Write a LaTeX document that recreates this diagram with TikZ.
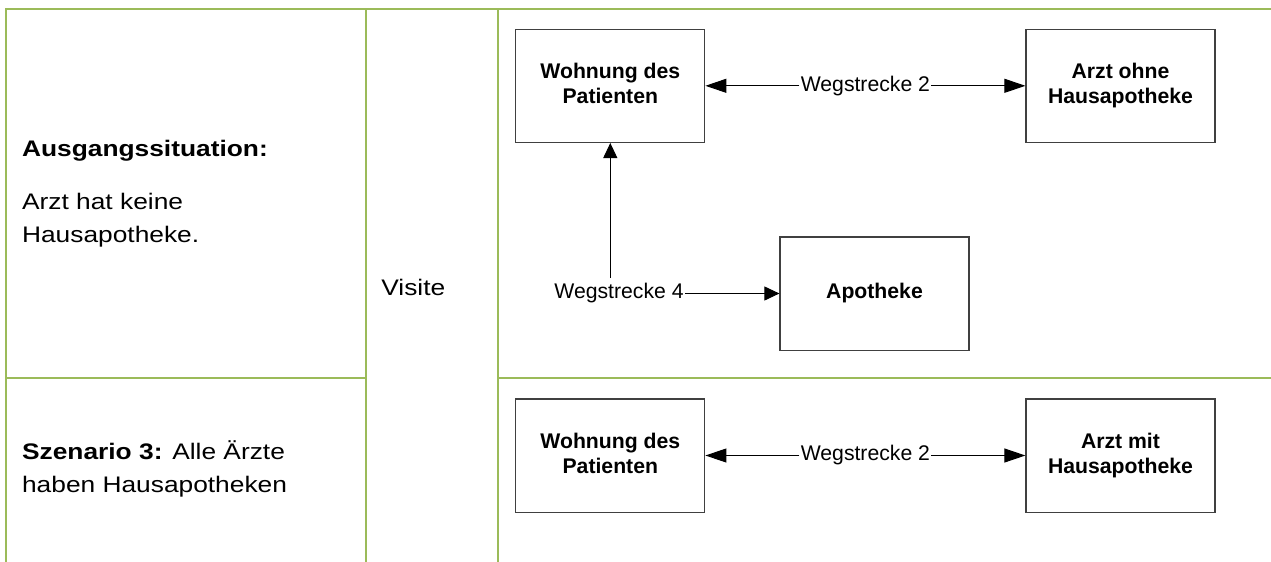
\documentclass[tikz,border=0pt]{standalone}
\usepackage{fontspec}
\setmainfont{Liberation Sans}
\newfontfamily\cellfont{Liberation Sans}[FakeStretch=1.17]
\usetikzlibrary{arrows.meta,calc}
\definecolor{gridgreen}{HTML}{9BBB59}
\definecolor{boxgray}{HTML}{404040}
\begin{document}
\begin{tikzpicture}[x=0.5pt,y=-0.5pt,
  grid/.style={draw=gridgreen, line width=1pt},
  place/.style={draw=boxgray, line width=0.6pt, minimum width=94.5pt,
    minimum height=56.6pt, inner sep=0pt, align=center,
    font=\fontsize{10.6}{12.5}\selectfont\bfseries},
  route/.style={draw=black, line width=0.5pt,
    -{Triangle[length=7.5pt,width=7pt]}},
  longroute/.style={draw=black, line width=0.5pt,
    -{Triangle[length=10.5pt,width=7pt]}},
  routelabel/.style={fill=white, inner xsep=0.5pt, inner ysep=2.5pt,
    font=\fontsize{10.6}{12.5}\selectfont},
  celltext/.style={anchor=base west, inner sep=0pt,
    font=\cellfont\fontsize{11.25}{16}\selectfont}]
\useasboundingbox (0,0) rectangle (1271,562);

% table rules
\draw[grid] (6,562) -- (6,9) -- (1271,9);
\draw[grid] (366,9) -- (366,562);
\draw[grid] (498,9) -- (498,562);
\draw[grid] (6,378) -- (366,378);
\draw[grid] (498,378) -- (1271,378);

% left column
\node[celltext] (t1) at (21.7,156.7) {\textbf{Ausgangssituation:}};
\node[celltext] (t2) at (21.7,209) {Arzt hat keine};
\node[celltext] (t3) at (21.7,242.5) {Hausapotheke.};
\node[celltext] (t4) at (21.7,459.3) {\textbf{Szenario 3:} Alle Ärzte};
\node[celltext] (t5) at (21.7,492.7) {haben Hausapotheken};

% middle column
\node[celltext] (visit) at (381,295.5) {Visite};

% initial situation
\node[place] (home1) at (610.3,85.8) {Wohnung des\\Patienten\vphantom{p}};
\node[place] (doc1)  at (1120.5,85.8) {Arzt ohne\\Hausapotheke};
\node[place] (pharm) at (874.5,293.5) {Apotheke};

\node[routelabel] (r2a) at ($(home1.east)!0.5!(doc1.west)$) {Wegstrecke 2};
\draw[longroute] (r2a) -- (home1.east);
\draw[longroute] (r2a) -- (doc1.west);

\node[routelabel] (r4) at (619,293.5) {Wegstrecke 4};
\draw[route] (r4.north -| home1.south) -- (home1.south);
\draw[route] (r4.east) -- (r4.east -| pharm.west);

% scenario 3
\node[place] (home2) at (610.3,455.5) {Wohnung des\\Patienten\vphantom{p}};
\node[place] (doc2)  at (1120.5,455.5) {Arzt mit\\Hausapotheke};

\node[routelabel] (r2b) at ($(home2.east)!0.5!(doc2.west)$) {Wegstrecke 2};
\draw[longroute] (r2b) -- (home2.east);
\draw[longroute] (r2b) -- (doc2.west);
\end{tikzpicture}
\end{document}
